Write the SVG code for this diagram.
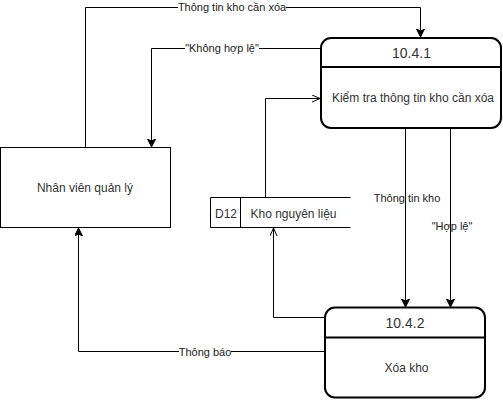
<svg xmlns="http://www.w3.org/2000/svg" width="503" height="406" viewBox="0 0 503 406">
<style>
text{font-family:"Liberation Sans",Arial,sans-serif;fill:#333;text-anchor:middle}
.t12{font-size:12px}
.t14{font-size:14px}
.lbl{font-size:11px;fill:#222}
.edge{fill:none;stroke:#000;stroke-width:1}
.proc{fill:#fff;stroke:#000;stroke-width:2}
.box{fill:#fff;stroke:#000;stroke-width:1}
.bg{fill:#fff}
</style>
<defs>
<marker id="block" markerUnits="userSpaceOnUse" markerWidth="10" markerHeight="10" refX="8" refY="4" orient="auto">
<path d="M0,0 L8,4 L0,8 L2,4 z" fill="#000" stroke="#000" stroke-width="1"/>
</marker>
<marker id="open" markerUnits="userSpaceOnUse" markerWidth="10" markerHeight="10" refX="8" refY="4" orient="auto">
<path d="M0,0.5 L8,4 L0,7.5" fill="none" stroke="#000" stroke-width="1"/>
</marker>
</defs>
<rect width="503" height="406" fill="#fff"/>

<g id="connectors">
<path class="edge" d="M85.5,147 V7.5 H420.5 V37" marker-end="url(#block)"/>
<path class="edge" d="M321,48.5 H151.5 V147" marker-end="url(#block)"/>
<path class="edge" d="M265.5,197 V98.5 H320" marker-end="url(#open)"/>
<path class="edge" d="M405.5,128 V307" marker-end="url(#block)"/>
<path class="edge" d="M450.5,128 V307" marker-end="url(#block)"/>
<path class="edge" d="M325,317.5 H273.5 V228" marker-end="url(#open)"/>
<path class="edge" d="M325,351.5 H78.5 V228" marker-end="url(#block)"/>
<rect class="bg" x="178" y="0" width="108" height="14"/>
<text class="lbl" x="232" y="11">Thông tin kho cần xóa</text>
<rect class="bg" x="185" y="41" width="74" height="14"/>
<text class="lbl" x="222" y="52">"Không hợp lệ"</text>
<text class="lbl" x="407" y="202">Thông tin kho</text>
<text class="lbl" x="452" y="230">"Hợp lệ"</text>
<rect class="bg" x="179" y="345" width="52" height="14"/>
<text class="lbl" x="205" y="356">Thông báo</text>
</g>

<g id="p1041">
<rect class="proc" x="321" y="38" width="180" height="90" rx="10"/>
<line x1="321" y1="67" x2="501" y2="67" stroke="#000" stroke-width="2"/>
<text class="t14" x="411.5" y="58">10.4.1</text>
<text class="t12" x="413" y="102">Kiểm tra thông tin kho cần xóa</text>
</g>

<g id="p1042">
<rect class="proc" x="325" y="307.5" width="160" height="90" rx="10"/>
<line x1="325" y1="337.5" x2="485" y2="337.5" stroke="#000" stroke-width="2"/>
<text class="t14" x="405" y="328">10.4.2</text>
<text class="t12" x="406.5" y="372">Xóa kho</text>
</g>

<g id="nhanvien">
<rect class="box" x="0.5" y="147.5" width="170" height="80"/>
<text class="t12" x="85" y="191.5">Nhân viên quản lý</text>
</g>

<g id="d12">
<path class="edge" d="M350.5,197.5 H210.5 V227.5 H350.5 M240.5,197.5 V227.5"/>
<text class="t12" x="226" y="217.5">D12</text>
<text class="t12" x="293.5" y="217.5">Kho nguyên liệu</text>
</g>
</svg>
